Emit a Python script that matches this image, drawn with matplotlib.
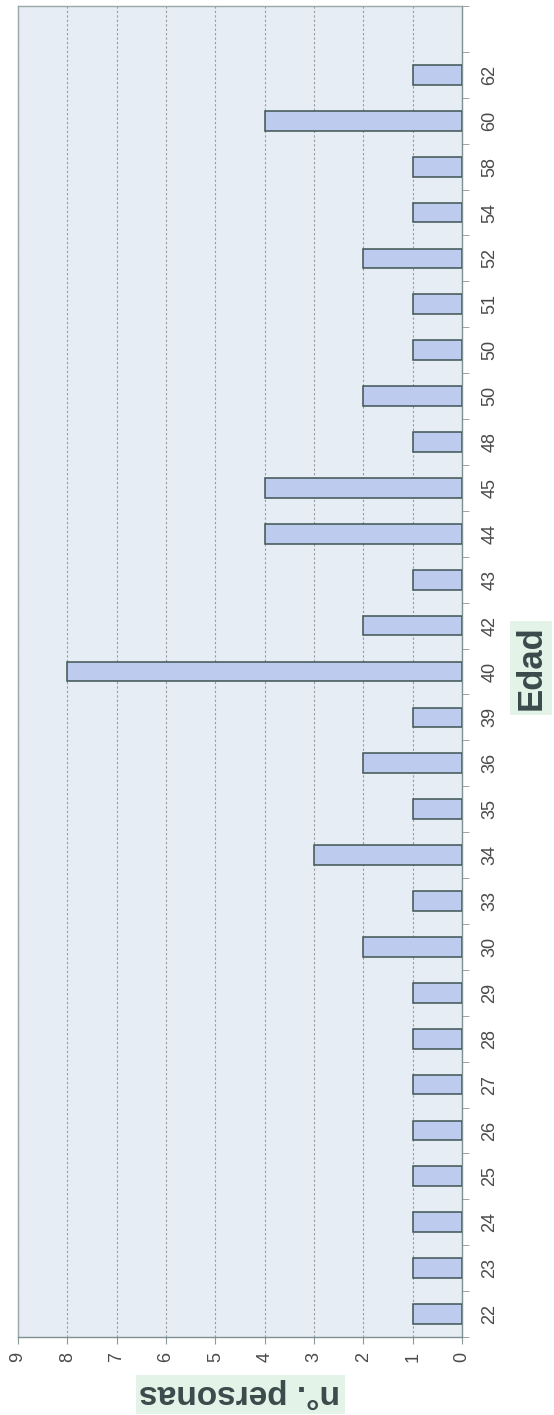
import matplotlib.pyplot as plt

# edades (eje de categorias) y numero de personas
edades = ['22', '23', '24', '25', '26', '27', '28', '29', '30', '33', '34', '35',
          '36', '39', '40', '42', '43', '44', '45', '48', '50', '50', '51', '52',
          '54', '58', '60', '62']
personas = [1, 1, 1, 1, 1, 1, 1, 1, 2, 1, 3, 1,
            2, 1, 8, 2, 1, 4, 4, 1, 2, 1, 1, 2,
            1, 1, 4, 1]
valores_eje = list(range(0, 10))

plt.rcParams['font.family'] = ['Liberation Sans', 'DejaVu Sans']

fig = plt.figure(figsize=(5.54, 14.15), dpi=100)
ax = fig.add_axes([18 / 554, 1 - 1337 / 1415, 444 / 554, 1331 / 1415])
ax.set_facecolor('#e6edf5')

pos = list(range(len(edades)))
ax.barh(pos, personas, height=0.43, color='#bccbee', edgecolor='#3f5454',
        linewidth=1.1, zorder=3)

# grafico girado: el valor crece hacia la izquierda
# (hay un hueco vacio arriba, como en el original)
n_huecos = len(edades) + 1
ax.set_xlim(9, 0)
ax.set_ylim(-0.5, n_huecos - 0.5)
ax.set_xticks(valores_eje)
ax.set_xticklabels([str(v) for v in valores_eje], rotation=90, fontsize=13,
                   color='#4a4a4a')
ax.xaxis.grid(True, linestyle=(0, (2, 2)), color='#9a9a9a', linewidth=0.8, zorder=0)
ax.tick_params(axis='x', direction='out', length=5, color='#8a9a9a', pad=6)

ax.yaxis.tick_right()
ax.set_yticks(pos)
ax.set_yticklabels(edades, rotation=90, fontsize=13, color='#4a4a4a', va='center')
ax.tick_params(axis='y', which='major', length=0, pad=14)
ax.set_yticks([p - 0.5 for p in range(n_huecos + 1)], minor=True)
ax.tick_params(axis='y', which='minor', direction='out', length=5, color='#8a9a9a')

for s in ax.spines.values():
    s.set_color('#9aa8a8')
    s.set_linewidth(1.0)
ax.spines['right'].set_color('#7f9090')
ax.spines['bottom'].set_color('#7f9090')

fig.text(531 / 554, 1 - 668 / 1415, 'Edad', rotation=90, fontsize=25,
         fontweight='bold', color='#3b4b4b', ha='center', va='center',
         bbox=dict(facecolor='#e4f3e8', edgecolor='none', pad=3))
fig.text(240 / 554, 1 - 1394 / 1415, 'n°. personas', rotation=180, fontsize=24,
         fontweight='bold', color='#3b4b4b', ha='center', va='center',
         bbox=dict(facecolor='#e4f3e8', edgecolor='none', pad=3))

fig.savefig('out.png', dpi=100)
